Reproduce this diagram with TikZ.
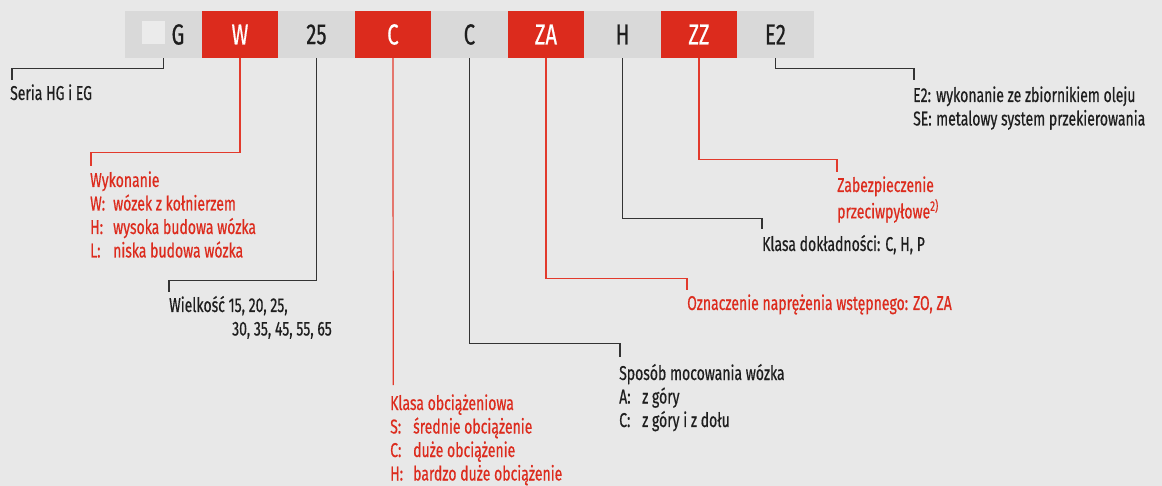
\documentclass[tikz,border=0pt]{standalone}
\usepackage{fontspec}
\setmainfont[FakeStretch=0.7,FakeBold=0.5]{Fira Sans}
\definecolor{bg}{HTML}{E8E8E8}
\definecolor{boxgray}{HTML}{D9D9D9}
\definecolor{boxred}{HTML}{DC2B1D}
\definecolor{sqc}{HTML}{EBEBEB}
\definecolor{txt}{HTML}{1E1E1E}
\definecolor{lin}{HTML}{333333}
\definecolor{redlin}{HTML}{E23A2C}
\definecolor{redtxt}{HTML}{DC2B1D}
\newcommand{\lab}[1]{\makebox[23pt][l]{#1}}
\begin{document}
\begin{tikzpicture}[x=1pt,y=-1pt,
  codebox/.style={minimum width=76.5pt, minimum height=47pt, inner sep=0, anchor=west,
     font=\fontsize{29}{29}\selectfont},
  graybox/.style={codebox, fill=boxgray, text=txt},
  redbox/.style={codebox, fill=boxred, text=white},
  lbl/.style={anchor=base west, inner sep=0, text=txt, font=\fontsize{20}{23.5}\selectfont},
  rlbl/.style={lbl, text=redtxt},
  dk/.style={draw=lin, line width=1.2pt},
  rd/.style={draw=redlin, line width=1.2pt}]
\fill[bg] (0,0) rectangle (1162,486);
\useasboundingbox (0,0) rectangle (1162,486);
% code boxes
\node[graybox] (b1) at (125,34.5) {};
\node[redbox]  (b2) at (201.5,34.5) {W};
\node[graybox] (b3) at (278,34.5) {25};
\node[redbox]  (b4) at (354.5,34.5) {C};
\node[graybox] (b5) at (431,34.5) {C};
\node[redbox]  (b6) at (507.5,34.5) {ZA};
\node[graybox] (b7) at (584,34.5) {H};
\node[redbox]  (b8) at (660.5,34.5) {ZZ};
\node[graybox] (b9) at (737,34.5) {E2};
\node[fill=sqc, minimum size=23pt, inner sep=0] (sq) at (153.5,32.5) {};
\node[inner sep=0, text=txt, font=\fontsize{29}{29}\selectfont] (gG) at (178,34.5) {G};
% end points
\coordinate (e1) at (12,80);
\coordinate (e2) at (91,166);
\coordinate (e3) at (169,292);
\coordinate (e4) at (393.25,385);
\coordinate (e5) at (620,357);
\coordinate (e6) at (687,290);
\coordinate (e7) at (762,229);
\coordinate (e8) at (837,172);
\coordinate (e9) at (914,80);
% connectors
\draw[dk] (b1.south) -- ++(0,10) -| (e1);
\draw[rd] (b2.south) -- ++(0,94) -| (e2);
\draw[dk] (b3.south) -- ++(0,222) -| (e3);
\draw[rd] (b4.south) -- (e4);
\draw[dk] (b5.south) -- ++(0,285) -| (e5);
\draw[rd] (b6.south) -- ++(0,220) -| (e6);
\draw[dk] (b7.south) -- ++(0,160) -| (e7);
\draw[rd] (b8.south) -- ++(0,101) -| (e8);
\draw[dk] (b9.south) -- ++(0,10) -| (e9);
% labels
\node[lbl] (t1) at (10,100) {Seria HG i EG};
\node[rlbl] (t2) at (90,187) {\begin{tabular}[t]{@{}l@{}}Wykonanie\\ \lab{W:}wózek z kołnierzem\\ \lab{H:}wysoka budowa wózka\\ \lab{L:}niska budowa wózka\end{tabular}};
\node[lbl] (t3) at (169,312) {\begin{tabular}[t]{@{}l@{}}Wielkość 15, 20, 25,\\ \hspace*{63pt}30, 35, 45, 55, 65\end{tabular}};
\node[rlbl] (t4) at (390,410) {\begin{tabular}[t]{@{}l@{}}Klasa obciążeniowa\\ \lab{S:}średnie obciążenie\\ \lab{C:}duże obciążenie\\ \lab{H:}bardzo duże obciążenie\end{tabular}};
\node[lbl] (t5) at (619,380) {\begin{tabular}[t]{@{}l@{}}Sposób mocowania wózka\\ \lab{A:}z góry\\ \lab{C:}z góry i z dołu\end{tabular}};
\node[rlbl] (t6) at (687,310) {Oznaczenie naprężenia wstępnego: ZO, ZA};
\node[lbl] (t7) at (762,251) {Klasa dokładności: C, H, P};
\node[rlbl] (t8) at (837,192) {\begin{tabular}[t]{@{}l@{}}Zabezpieczenie\\ przeciwpyłowe\textsuperscript{2)}\end{tabular}};
\node[lbl] (t9) at (913,102) {\begin{tabular}[t]{@{}l@{}}\lab{E2:}wykonanie ze zbiornikiem oleju\\ \lab{SE:}metalowy system przekierowania\end{tabular}};
\end{tikzpicture}
\end{document}
